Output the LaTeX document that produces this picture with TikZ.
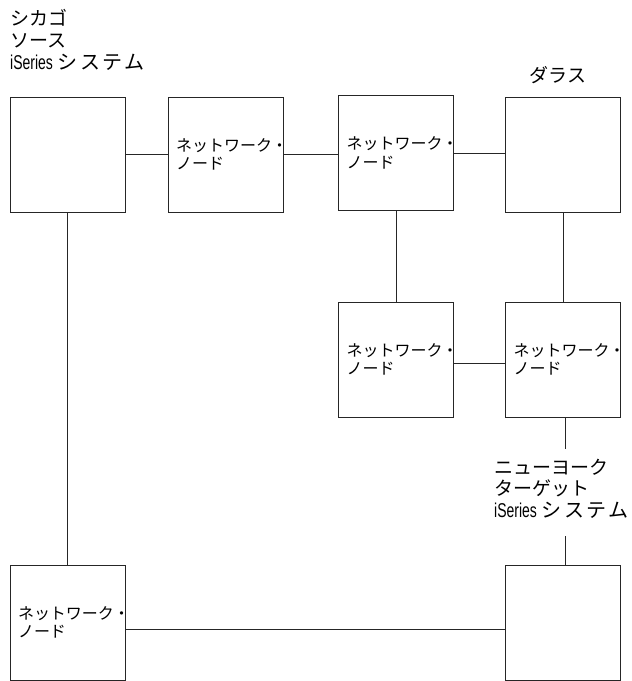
\documentclass[tikz,border=0pt]{standalone}
\usepackage{fontspec}
\setmainfont[FakeStretch=0.7]{Liberation Sans}
\newfontfamily\jpfont{Noto Sans CJK JP}
\newfontfamily\jpsp[LetterSpace=12]{Noto Sans CJK JP}
\newcommand\jplbl{\jpfont\fontsize{19}{22}\selectfont}
\newcommand\jpwide{\jpsp\fontsize{20}{22}\selectfont}
\begin{document}
\begin{tikzpicture}[x=1pt,y=-1pt,
  box/.style={draw=black!85, line width=0.9pt, minimum width=115pt, minimum height=115pt,
    inner xsep=8pt, inner ysep=0pt, text width=99pt, align=left,
    font=\jpfont\fontsize{16}{18.5}\selectfont},
  conn/.style={draw=black!85, line width=0.9pt},
  lbl/.style={inner sep=0pt, align=left, font=\fontsize{20}{22}\selectfont}]
\useasboundingbox (0,0) rectangle (632,681);

% boxes
\node[box] (chi) at (67.5,154.5) {};
\node[box] (n1) at (225.5,154.5) {ネットワーク・\\ノード};
\node[box] (n2) at (396,153) {ネットワーク・\\ノード};
\node[box] (dal) at (563,154.5) {};
\node[box] (n3) at (396,359.5) {ネットワーク・\\ノード};
\node[box] (n4) at (563,359.5) {ネットワーク・\\ノード};
\node[box] (bl) at (67.5,622.5) {ネットワーク・\\ノード};
\node[box] (br) at (563,622.5) {};

% labels
\node[lbl, anchor=west] (chiL) at (10,39.5) {{\jplbl シカゴ}\\{\jplbl ソース}\\iSeries\hspace{1pt} {\jpwide システム}};
\node[lbl, anchor=center] (dalL) at (558,75) {\jplbl ダラス};
\node[lbl, anchor=west, font=\fontsize{20}{21.5}\selectfont] (nyL) at (494,488.5) {{\jplbl ニューヨーク}\\{\jplbl ターゲット}\\iSeries\hspace{1pt} {\jpwide システム}};

% connectors
\coordinate (nyA) at (565,449);
\coordinate (nyB) at (565,536);
\draw[conn] (chi.east) -- (n1.west);
\draw[conn] (n1.east) -- (n1.east -| n2.west);
\draw[conn] (n2.east) -- (n2.east -| dal.west);
\draw[conn] (n2.south) -- (n3.north);
\draw[conn] (dal.south) -- (n4.north);
\draw[conn] ([yshift=-3.5pt]n3.east) -- ([yshift=-3.5pt]n4.west);
\draw[conn] (n4.south -| nyA) -- (nyA);
\draw[conn] (nyB) -- (nyB |- br.north);
\draw[conn] (chi.south) -- (bl.north);
\draw[conn] ([yshift=-6.5pt]bl.east) -- ([yshift=-6.5pt]br.west);
\end{tikzpicture}
\end{document}
